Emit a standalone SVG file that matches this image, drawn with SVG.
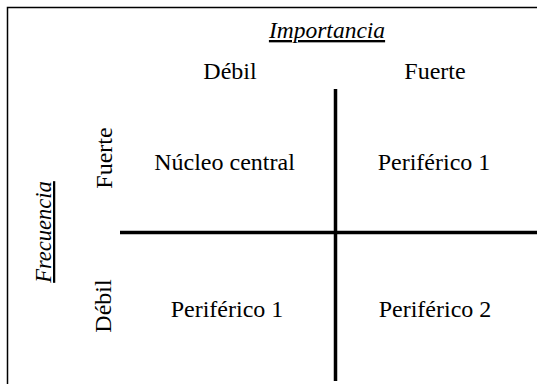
<svg xmlns="http://www.w3.org/2000/svg" width="537" height="384" viewBox="0 0 537 384">
<style>
text{font-family:"Liberation Serif","Times New Roman",serif;font-size:24px;fill:#000;text-anchor:middle}
.it{font-style:italic;text-decoration:underline}
.frame{stroke:#000;stroke-width:1.5;fill:none}
.axis{stroke:#000;stroke-width:3.5;fill:none}
</style>
<rect width="537" height="384" fill="#fff"/>
<g id="frame"><path class="frame" d="M7.5,384 V7.5 H537"/></g>
<g id="connectors">
<line class="axis" x1="335.5" y1="89" x2="335.5" y2="381"/>
<line class="axis" x1="120" y1="232.5" x2="537" y2="232.5"/>
</g>
<g id="importancia"><text class="it" x="327" y="38" style="font-size:23.5px">Importancia</text></g>
<g id="col-debil"><text x="230" y="79">Débil</text></g>
<g id="col-fuerte"><text x="435" y="79">Fuerte</text></g>
<g id="frecuencia"><text class="it" transform="translate(51,232) rotate(-90)" style="font-size:22.5px">Frecuencia</text></g>
<g id="row-fuerte"><text transform="translate(112,158) rotate(-90)">Fuerte</text></g>
<g id="row-debil"><text transform="translate(111,306) rotate(-90)">Débil</text></g>
<g id="nucleo-central"><text x="224.5" y="170">Núcleo central</text></g>
<g id="periferico-1-top"><text x="434" y="170">Periférico 1</text></g>
<g id="periferico-1-bottom"><text x="227" y="316.5">Periférico 1</text></g>
<g id="periferico-2"><text x="435" y="316.5">Periférico 2</text></g>
</svg>
